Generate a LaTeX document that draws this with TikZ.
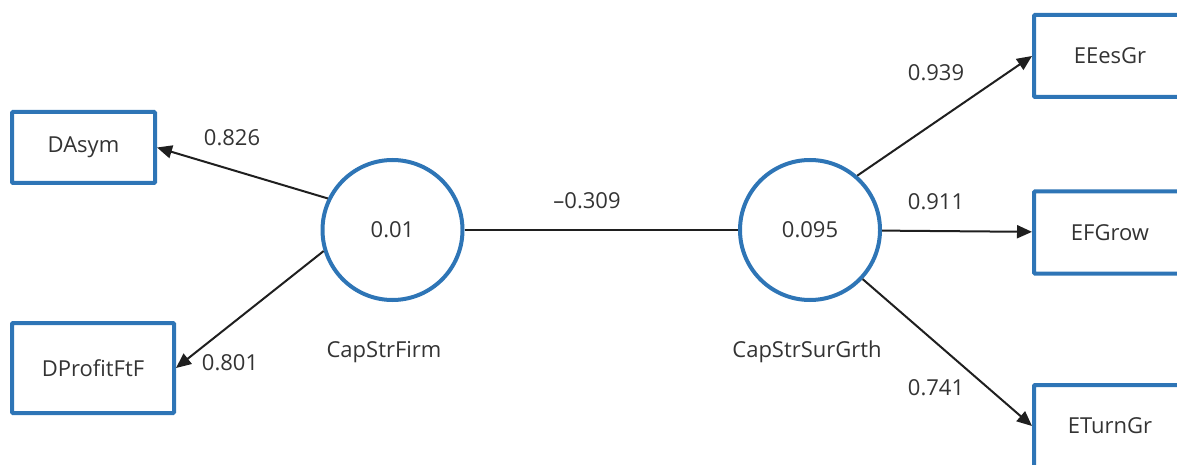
\documentclass[tikz,border=0pt]{standalone}
\usepackage{fontspec}
\setmainfont{Open Sans}
\usetikzlibrary{arrows.meta,positioning}
\definecolor{plsblue}{RGB}{46,117,182}
\definecolor{plstext}{RGB}{51,51,51}
\tikzset{
    indicator/.style={draw=plsblue, line width=4pt, rounded corners=1pt,
        inner sep=0pt, minimum width=143pt, minimum height=71pt, text=plstext},
    construct/.style={circle, draw=plsblue, line width=4pt, inner sep=0pt,
        minimum size=140pt, text=plstext},
    loading/.style={-{Triangle[length=15pt,width=13pt]}, line width=2pt, draw=black!88},
    weight/.style={inner sep=0pt, text=plstext}
}

\begin{document}
\begin{tikzpicture}[x=1pt, y=-1pt, font=\fontsize{22pt}{26pt}\selectfont]
    \useasboundingbox (0,0) rectangle (1177,465);
    \clip (0,0) rectangle (1177,465);

    % latent constructs
    \node[construct] (firm) at (392.5,230) {0.01};
    \node[construct] (grth) at (810,230) {0.095};
    \node[weight] (firmname) at (384,352) {CapStrFirm};
    \node[weight] (grthname) at (807,352) {CapStrSurGrth};

    % indicators
    \node[indicator] (dasym) at (83.5,147.5) {DAsym};
    \node[indicator, minimum width=162pt, minimum height=90pt] (dprofit)
        at (93,368) {DProfitFtF};
    \node[indicator, minimum width=152pt, minimum height=82pt] (eesgr)
        at (1110,56) {EEesGr};
    \node[indicator, minimum width=152pt, minimum height=82pt] (efgrow)
        at (1110,232.5) {EFGrow};
    \node[indicator, minimum width=152pt, minimum height=82pt] (eturn)
        at (1110,426) {ETurnGr};

    % paths
    \draw[line width=1.2pt, draw=black!88] (firm) -- (grth);
    \draw[loading] (firm.154) -- (dasym.east);
    \draw[loading] (firm.197) -- (dprofit.east);
    \draw[loading] (grth.49) -- (eesgr.west);
    \draw[loading] (grth) -- (efgrow);
    \draw[loading] (grth.-43) -- (eturn.west);

    % path weights
    \node[weight] (w826) at (232,138) {0.826};
    \node[weight] (w801) at (230,363) {0.801};
    \node[weight] (w309) at (587,201) {–0.309};
    \node[weight] (w939) at (936,73) {0.939};
    \node[weight] (w911) at (936,202) {0.911};
    \node[weight] (w741) at (936,388) {0.741};
\end{tikzpicture}
\end{document}
